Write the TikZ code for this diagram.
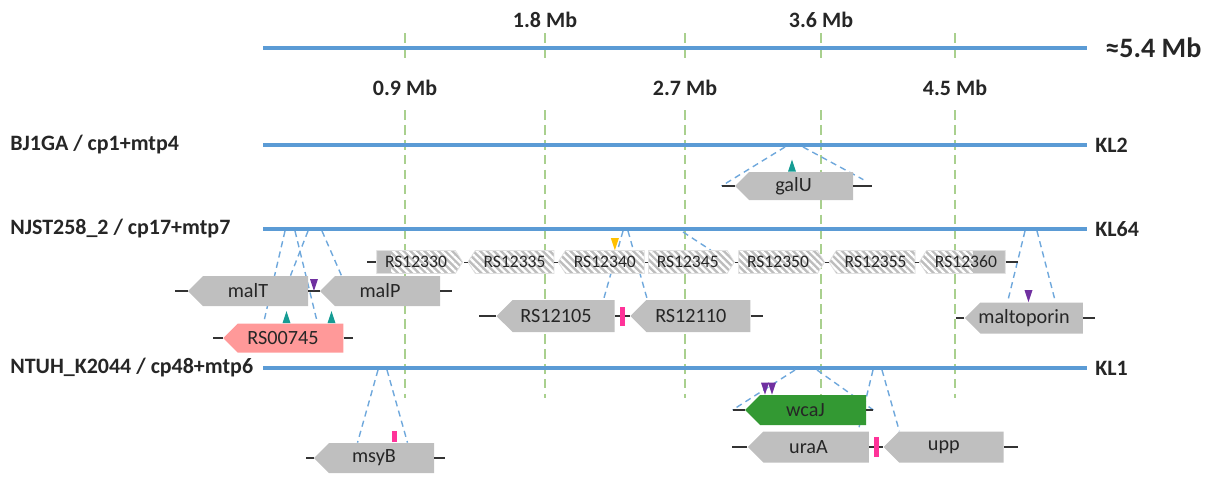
\documentclass[tikz,border=0pt]{standalone}
\usepackage{fontspec}
\setmainfont{Carlito}
\usetikzlibrary{positioning, shapes.symbols, patterns.meta, calc, backgrounds}

\definecolor{trackblue}{HTML}{5B9BD5}
\definecolor{tickgreen}{HTML}{A9D08E}
\definecolor{zoomblue}{HTML}{6FA8DC}
\definecolor{genegray}{HTML}{BFBFBF}
\definecolor{hatchgray}{HTML}{BDBDBD}
\definecolor{capspink}{HTML}{FF9999}
\definecolor{wcagreen}{HTML}{339933}
\definecolor{snpteal}{HTML}{169C94}
\definecolor{snppurple}{HTML}{7030A0}
\definecolor{snpyellow}{HTML}{FFC000}
\definecolor{indelpink}{HTML}{FF3399}

\newcommand{\px}{0.02cm}

\begin{document}
\begin{tikzpicture}[
    x=\px, y=-\px,
    node distance=3.5*\px and 3.5*\px, % gap between the hatched genes
    track/.style={trackblue, line width=2.6pt},
    tickline/.style={tickgreen, line width=1.1pt, dash pattern=on 5.5pt off 3pt},
    zoomline/.style={zoomblue, line width=0.8pt, dash pattern=on 3.5pt off 2.5pt},
    tail/.style={black!80, line width=0.7pt},
    strainlabel/.style={font=\fontsize{12.5}{14}\selectfont\bfseries, text=black!85, inner sep=0pt},
    % the pointer sits outside the text box, so the text is moved back by half of it
    gene/.style={signal, signal to=west, signal pointer angle=90, fill=genegray, inner sep=0pt,
        minimum width=120*\px, minimum height=30*\px, font=\fontsize{11.5}{13}\selectfont, text=black!85,
        execute at begin node={\hskip-0.15cm}, execute at end node={\hskip0.15cm}},
    rsgene/.style={signal, signal to=west, signal pointer angle=115, draw=black!12, line width=0.4pt,
        preaction={fill=hatchgray}, pattern={Lines[angle=-45, distance=2.8pt, line width=1.3pt]},
        pattern color=white, inner sep=0pt, minimum width=86*\px, minimum height=23*\px,
        font=\fontsize{10}{11}\selectfont, text=black!85},
    indel/.style={fill=indelpink, inner sep=0pt, minimum width=5*\px, minimum height=19*\px},
    snp up/.pic={\fill (-4,0) -- (4,0) -- (0,-12) -- cycle;},
    snp down/.pic={\fill (-4,-12) -- (4,-12) -- (0,0) -- cycle;}
]
\useasboundingbox (0,0) rectangle (1221,477);

% Genome scale
\coordinate (scale_l) at (263,48);
\coordinate (scale_r) at (1087,48);
\node (genome_size) [anchor=west, inner sep=0pt, font=\fontsize{16}{18}\selectfont\bfseries, text=black!85] at (1105,48) {≈5.4 Mb};
\node (mb09) [strainlabel] at (405,88) {0.9 Mb};
\node (mb18) [strainlabel] at (545,20) {1.8 Mb};
\node (mb27) [strainlabel] at (685,88) {2.7 Mb};
\node (mb36) [strainlabel] at (821,20) {3.6 Mb};
\node (mb45) [strainlabel] at (955,88) {4.5 Mb};

% Strain tracks
\coordinate (bj1ga_l) at (263,145);
\coordinate (bj1ga_r) at (1087,145);
\coordinate (njst_l) at (263,229);
\coordinate (njst_r) at (1087,229);
\coordinate (ntuh_l) at (263,368);
\coordinate (ntuh_r) at (1087,368);
\node (bj1ga) [strainlabel, anchor=west] at (10,145) {BJ1GA / cp1+mtp4};
\node (njst) [strainlabel, anchor=west] at (10,229) {NJST258\_2 / cp17+mtp7};
\node (ntuh) [strainlabel, anchor=west] at (10,368) {NTUH\_K2044 / cp48+mtp6};
\node (kl2) [strainlabel, right=8*\px of bj1ga_r] {KL2};
\node (kl64) [strainlabel, right=8*\px of njst_r] {KL64};
\node (kl1) [strainlabel, right=8*\px of ntuh_r] {KL1};

% BJ1GA genes
\node (galU) [gene, minimum width=118*\px, minimum height=28*\px] at (801,186) {galU};

% NJST258_2 genes
\node (RS12330) [rsgene, signal to=east, path picture={\fill[genegray] (path picture bounding box.north west) rectangle ([xshift=14*\px]path picture bounding box.south west);}] at (416,262) {RS12330};
\node (RS12335) [rsgene, right=of RS12330] {RS12335};
\node (RS12340) [rsgene, right=of RS12335] {RS12340};
\node (RS12345) [rsgene, signal to=east, right=of RS12340] {RS12345};
\node (RS12350) [rsgene, signal to=east, right=of RS12345] {RS12350};
\node (RS12355) [rsgene, right=of RS12350] {RS12355};
\node (RS12360) [rsgene, right=of RS12355, path picture={\fill[genegray] (path picture bounding box.north east) rectangle ([xshift=-32*\px]path picture bounding box.south east);}] {RS12360};

\node (malT) [gene] at (255.5,291) {malT};
\node (malP) [gene] at (387.5,291) {malP};
\node (RS00745) [gene, fill=capspink, minimum height=29*\px] at (290.5,338) {RS00745};
\node (RS12105) [gene, minimum width=118*\px, minimum height=32*\px] at (563.5,316) {RS12105};
\node (RS12110) [gene, minimum height=32*\px, right=15*\px of RS12105] {RS12110};
\node (maltoporin) [gene, minimum width=118*\px, minimum height=31*\px] at (1031.5,318) {maltoporin};

% NTUH_K2044 genes
\node (msyB) [gene] at (381.5,458) {msyB};
\node (wcaJ) [gene, fill=wcagreen, minimum width=121*\px] at (813,410) {wcaJ};
\node (uraA) [gene, minimum width=121*\px, minimum height=31*\px] at (816,447) {uraA};
\node (upp) [gene, minimum height=31*\px, right=14*\px of uraA] {upp};

% Flanking lines
\foreach \g/\len in {galU/13, malT/13, RS00745/10, RS12330/9, RS12105/17, maltoporin/8, msyB/8, wcaJ/12, uraA/15} {
    \coordinate (\g_l) at ([xshift=-\len*\px]\g.west);
    \draw[tail] (\g.west) -- (\g_l);
}
\foreach \g/\len in {galU/19, malP/12, RS00745/9, RS12360/12, RS12110/12, maltoporin/12, msyB/11, wcaJ/7, upp/14} {
    \coordinate (\g_r) at ([xshift=\len*\px]\g.east);
    \draw[tail] (\g.east) -- (\g_r);
}
\foreach \a/\b in {RS12330/RS12335, RS12335/RS12340, RS12340/RS12345, RS12345/RS12350, RS12350/RS12355, RS12355/RS12360}
    \draw[tail, line width=0.5pt] (\a.east) -- (\b.west);
\draw[tail] (malT.east) -- (malP.west);
\draw[tail] (RS12105.east) -- (RS12110.west);
\draw[tail] (uraA.east) -- (upp.west);

% Indels
\node (indel1) [indel] at ($(RS12105.east)!0.5!(RS12110.west)$) {};
\node (indel2) [indel, minimum height=20*\px] at ($(uraA.east)!0.5!(upp.west)$) {};
\node (indel3) [indel, minimum height=11*\px, anchor=south] at ([xshift=13*\px]msyB.north) {};

% SNPs
\pic[snpteal] at ([xshift=-9*\px]galU.north) {snp up};
\pic[snppurple] at ($(malT.east)!0.5!(malP.west)$) {snp down};
\pic[snpteal] at ([xshift=-4*\px]RS00745.north) {snp up};
\pic[snpteal] at ([xshift=41*\px]RS00745.north) {snp up};
\pic[snpyellow] at ([xshift=10*\px]RS12340.north) {snp down};
\pic[snppurple] at ([xshift=-3*\px]maltoporin.north) {snp down};
\pic[snppurple] at ([xshift=-48*\px]wcaJ.north) {snp down};
\pic[snppurple] at ([xshift=-41*\px]wcaJ.north) {snp down};

% Locus positions on the tracks
\coordinate (p1) at (785,147);
\coordinate (p2) at (803,147);
\coordinate (p3) at (285,231);
\coordinate (p4) at (295,231);
\coordinate (p5) at (308,231);
\coordinate (p6) at (322,231);
\coordinate (p7) at (623,231);
\coordinate (p8) at (628,231);
\coordinate (p9) at (683,232);
\coordinate (p10) at (1025,231);
\coordinate (p11) at (1037,231);
\coordinate (p12) at (378,370);
\coordinate (p13) at (387,370);
\coordinate (p14) at (795,370);
\coordinate (p15) at (817,370);
\coordinate (p16) at (873,370);
\coordinate (p17) at (882,370);

\begin{scope}[on background layer]
    \foreach \x in {405,545,685,821,955} {
        \draw[tickline] (\x,33) -- (\x,62);
        \draw[tickline] (\x,110) -- (\x,398);
    }
    \draw[track] (scale_l) -- (scale_r);
    \draw[track] (bj1ga_l) -- (bj1ga_r);
    \draw[track] (njst_l) -- (njst_r);
    \draw[track] (ntuh_l) -- (ntuh_r);

    % zoom lines
    \draw[zoomline] (p1) -- (galU_l);
    \draw[zoomline] (p2) -- ([xshift=10*\px, yshift=-8*\px]galU.north east);
    \draw[zoomline] (p3) -- ([xshift=-27*\px]RS00745.north);
    \draw[zoomline] (p4) -- ([xshift=27*\px]RS00745.north);
    \draw[zoomline] (p5) -- ([xshift=35*\px]malT.north);
    \draw[zoomline] (p6) -- ([xshift=-46*\px]malP.north);
    \draw[zoomline] (p7) -- ([xshift=40*\px]RS12105.north);
    \draw[zoomline] (p8) -- ([xshift=-51*\px]RS12110.north);
    \draw[zoomline] (p9) -- ([xshift=23*\px]RS12345.north);
    \draw[zoomline] (p10) -- ([xshift=-24*\px]maltoporin.north);
    \draw[zoomline] (p11) -- ([xshift=24*\px]maltoporin.north);
    \draw[zoomline] (p12) -- ([xshift=-24*\px]msyB.north);
    \draw[zoomline] (p13) -- ([xshift=26*\px]msyB.north);
    \draw[zoomline] (p14) -- (wcaJ_l);
    \draw[zoomline] (p15) -- (wcaJ_r);
    \draw[zoomline] (p16) -- ([xshift=-11*\px]uraA.north east);
    \draw[zoomline] (p17) -- ([xshift=-52*\px]upp.north);
\end{scope}

\end{tikzpicture}
\end{document}
